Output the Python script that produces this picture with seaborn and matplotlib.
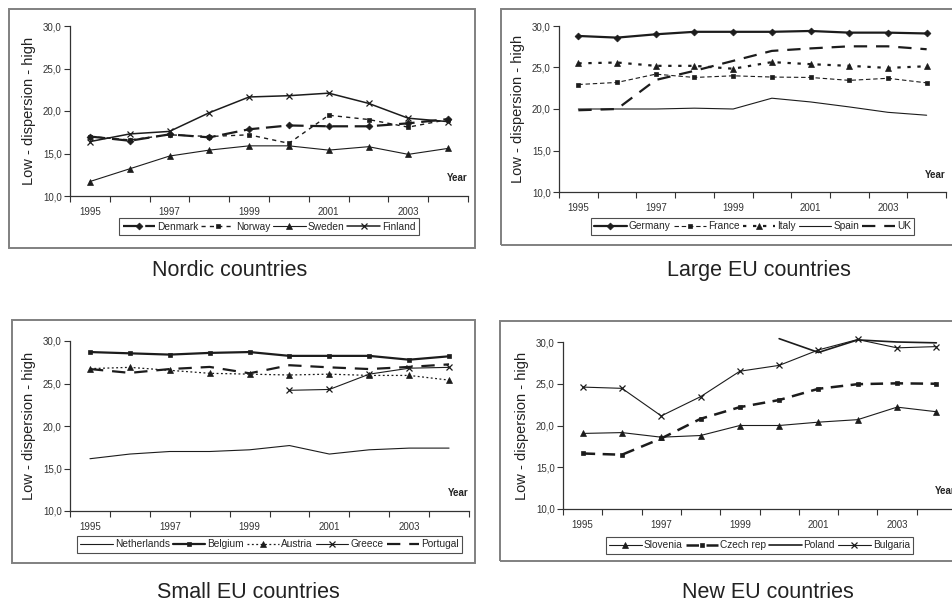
import numpy as np
import pandas as pd
import matplotlib
matplotlib.use("Agg")
import matplotlib.pyplot as plt
from matplotlib.patches import Rectangle
import seaborn as sns

years = [1995, 1996, 1997, 1998, 1999, 2000, 2001, 2002, 2003, 2004]
year_labels = ["1995", "", "1997", "", "1999", "", "2001", "", "2003", ""]
ytick_values = [10, 15, 20, 25, 30]
ytick_labels = ["10,0", "15,0", "20,0", "25,0", "30,0"]
nan = np.nan

# Nordic countries
denmark = [17.0, 16.5, 17.25, 16.9, 17.85, 18.3, 18.2, 18.2, 18.55, 19.05]
norway = [17.0, 16.6, 17.2, 17.0, 17.2, 16.2, 19.5, 19.0, 18.1, 19.0]
sweden = [11.7, 13.2, 14.7, 15.4, 15.9, 15.9, 15.4, 15.8, 14.9, 15.6]
finland = [16.4, 17.3, 17.6, 19.8, 21.65, 21.8, 22.1, 20.9, 19.15, 18.75]

# Large EU countries
germany = [28.8, 28.6, 29.0, 29.3, 29.3, 29.3, 29.4, 29.2, 29.2, 29.1]
france = [22.95, 23.2, 24.2, 23.8, 24.0, 23.85, 23.8, 23.45, 23.7, 23.15]
italy = [25.5, 25.6, 25.2, 25.2, 24.85, 25.65, 25.4, 25.2, 24.95, 25.15]
spain = [20.0, 20.0, 20.0, 20.1, 20.0, 21.3, 20.85, 20.25, 19.6, 19.25]
uk = [19.85, 20.0, 23.5, 24.6, 25.8, 27.0, 27.3, 27.55, 27.55, 27.2]

# Small EU countries
netherlands = [16.15, 16.7, 17.0, 17.0, 17.2, 17.7, 16.7, 17.2, 17.4, 17.4]
belgium = [28.7, 28.55, 28.4, 28.6, 28.7, 28.25, 28.25, 28.25, 27.8, 28.2]
austria = [26.75, 26.9, 26.55, 26.2, 26.1, 26.0, 26.1, 25.95, 25.95, 25.4]
greece = [nan, nan, nan, nan, nan, 24.2, 24.3, 26.1, 26.8, 26.9]
portugal = [26.7, 26.25, 26.7, 26.95, 26.2, 27.15, 26.9, 26.7, 26.95, 27.25]

# New EU countries
slovenia = [19.05, 19.15, 18.6, 18.8, 20.0, 20.0, 20.4, 20.7, 22.2, 21.65]
czech = [16.65, 16.5, 18.45, 20.8, 22.2, 23.05, 24.4, 24.95, 25.05, 25.0]
poland = [nan, nan, nan, nan, nan, 30.4, 28.75, 30.25, 30.0, 29.9]
bulgaria = [24.6, 24.45, 21.15, 23.45, 26.5, 27.2, 29.05, 30.3, 29.3, 29.45]

ink = "#1c1c1c"
thin, thick = 0.8, 1.6

# name, values, linestyle, marker, linewidth, markersize
panels = [
    ("Nordic countries", [
        ("Denmark", denmark, (0, (7, 3)), "D", thick, 3.5),
        ("Norway", norway, (0, (3, 3)), "s", 1.0, 3.5),
        ("Sweden", sweden, "-", "^", thin, 4.5),
        ("Finland", finland, "-", "x", 1.1, 5),
    ]),
    ("Large EU countries", [
        ("Germany", germany, "-", "D", thick, 3.5),
        ("France", france, (0, (4, 2.5)), "s", thin, 3.5),
        ("Italy", italy, (0, (1.5, 3)), "^", 1.6, 4.5),
        ("Spain", spain, "-", None, thin, 0),
        ("UK", uk, (0, (6, 4)), None, thick, 0),
    ]),
    ("Small EU countries", [
        ("Netherlands", netherlands, "-", None, thin, 0),
        ("Belgium", belgium, "-", "s", thick, 3.5),
        ("Austria", austria, (0, (1.5, 2)), "^", 0.9, 4.5),
        ("Greece", greece, "-", "x", thin, 5),
        ("Portugal", portugal, (0, (6, 4)), None, thick, 0),
    ]),
    ("New EU countries", [
        ("Slovenia", slovenia, "-", "^", thin, 4.5),
        ("Czech rep", czech, (0, (5, 3)), "s", 1.8, 3.5),
        ("Poland", poland, "-", None, 1.2, 0),
        ("Bulgaria", bulgaria, "-", "x", thin, 5),
    ]),
]

sns.set_style("ticks")
plt.rcParams["font.family"] = ["Liberation Sans", "DejaVu Sans"]

W, H = 952, 605
fig = plt.figure(figsize=(W / 100, H / 100), dpi=100)

# pixel boxes: axes (left, right, top, bottom), frame (left, right, top, bottom), caption (x, y), legend offset
layout = [
    ((70, 468, 26, 196), (9, 475, 9, 248), (230, 270), -0.13),
    ((559, 946, 26, 192), (501, 962, 9, 245), (759, 270), -0.155),
    ((70, 469, 341, 511), (12, 475, 320, 563), (248, 592), -0.145),
    ((563, 956, 342, 509), (500, 962, 321, 561), (768, 592), -0.165),
]

for (title, series), (axbox, frame, cap, legy) in zip(panels, layout):
    l, r, t, b = axbox
    ax = fig.add_axes([l / W, 1 - b / H, (r - l) / W, (b - t) / H])
    fl, fr, ft, fb = frame
    fig.patches.append(Rectangle((fl / W, 1 - fb / H), (fr - fl) / W, (fb - ft) / H,
                                 transform=fig.transFigure, fill=False,
                                 edgecolor="#808080", lw=1.4))
    fig.text(cap[0] / W, 1 - cap[1] / H, title, ha="center", va="center", fontsize=15.5, color="#222222")

    for name, vals, ls, mk, lw, ms in series:
        df = pd.DataFrame({"idx": np.arange(len(years)), "value": vals}).dropna()
        sns.lineplot(data=df, x="idx", y="value", ax=ax, color=ink, linestyle=ls,
                     marker=mk, markersize=ms, linewidth=lw, label=name,
                     markeredgecolor=ink, markeredgewidth=0.9 if mk == "x" else 0.5,
                     clip_on=False)

    ax.set_xlim(-0.5, len(years) - 0.5)
    ax.set_ylim(10, 30)
    ax.set_xticks(np.arange(-0.5, len(years), 1.0))
    ax.set_xticklabels([])
    ax.set_xticks(np.arange(len(years)), minor=True)
    ax.set_xticklabels(year_labels, minor=True, fontsize=7)
    ax.tick_params(axis="x", which="major", length=4, width=0.8, color="#333333", direction="out")
    ax.tick_params(axis="x", which="minor", length=0, pad=8, labelcolor="#333333")
    ax.set_yticks(ytick_values)
    ax.set_yticklabels(ytick_labels, fontsize=7, color="#333333")
    ax.tick_params(axis="y", length=4, width=0.8, color="#333333", direction="out", pad=2)
    ax.set_xlabel("")
    ax.set_ylabel("Low - dispersion - high", fontsize=10.5, color="#222222", labelpad=5)
    sns.despine(ax=ax)
    for s in ("left", "bottom"):
        ax.spines[s].set_color("#333333")
        ax.spines[s].set_linewidth(0.9)
    ax.text(1.0, 0.075, "Year", transform=ax.transAxes, ha="right", va="bottom",
            fontsize=7, fontweight="bold", color="#222222")
    leg = ax.legend(loc="upper center", bbox_to_anchor=(0.5, legy), ncol=len(series),
                    fontsize=7.3, frameon=True, fancybox=False, edgecolor="#222222",
                    handlelength=3.2, handletextpad=0.2, columnspacing=0.3,
                    borderpad=0.35, borderaxespad=0, numpoints=1)
    leg.get_frame().set_linewidth(0.8)

fig.savefig("out.png", dpi=100)
